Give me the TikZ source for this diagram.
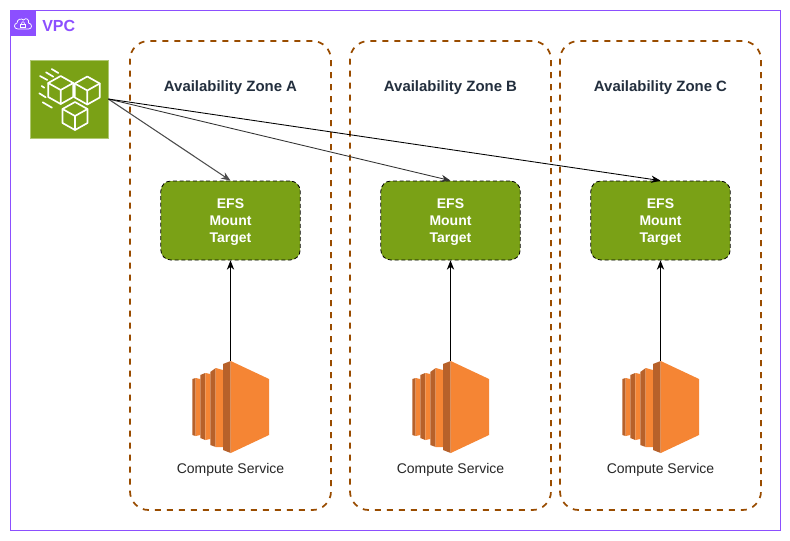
\documentclass[tikz,border=0pt]{standalone}
\usepackage{fontspec}
\setmainfont{Liberation Sans}
\usetikzlibrary{arrows.meta}
\definecolor{vpcpurple}{HTML}{8C4FFF}
\definecolor{zonebrown}{HTML}{994C00}
\definecolor{efsgreen}{HTML}{7AA116}
\definecolor{orangelight}{HTML}{F58534}
\definecolor{orangedark}{HTML}{B7612A}
\definecolor{titlegray}{HTML}{232F3E}
\tikzset{
  zonebox/.style={draw=zonebrown,dash pattern=on 4.5pt off 4.5pt,line width=1.3pt,rounded corners=14pt,minimum width=150.75pt,minimum height=351.75pt,inner sep=0pt},
  mountbox/.style={draw=black,densely dashed,line width=0.6pt,fill=efsgreen,rounded corners=7.5pt,minimum width=104.5pt,minimum height=59.25pt,inner sep=0pt},
  mounttext/.style={text=white,align=center,inner sep=0pt,font=\fontsize{10.5}{12.75}\selectfont\bfseries},
  zonetitle/.style={text=titlegray,font=\fontsize{11.2}{13}\selectfont\bfseries},
  computelabel/.style={text=black!85,font=\fontsize{10.5}{12.75}\selectfont},
  computeslot/.style={minimum width=57.75pt,minimum height=69pt,inner sep=0pt},
  conn/.style={-{Stealth[length=7pt,width=5.5pt]},line width=0.65pt},
  cubeline/.style={draw=white,line width=1.25pt,line join=round,line cap=round},
  computeicon/.pic={
    % four slabs, back to front
    \fill[orangedark] (-38.2,-28) -- (-34.8,-29) -- (-34.8,29) -- (-38.2,28) -- cycle;
    \fill[orangelight] (-34.8,-29) -- (-30.2,-28) -- (-30.2,28) -- (-34.8,29) -- cycle;
    \fill[orangedark] (-30.2,-32) -- (-25.2,-34) -- (-25.2,33) -- (-30.2,31) -- cycle;
    \fill[orangelight] (-25.2,-34) -- (-20.2,-33) -- (-20.2,32) -- (-25.2,33) -- cycle;
    \fill[orangedark] (-20.2,-35) -- (-14.8,-39) -- (-14.8,40) -- (-20.2,38) -- cycle;
    \fill[orangelight] (-14.8,-39) -- (-7.5,-37) -- (-7.5,40) -- (-14.8,40) -- cycle;
    \fill[orangedark] (-7.5,-43) -- (0.2,-46) -- (0.2,46) -- (-7.5,43) -- cycle;
    \fill[orangelight] (0.2,-46) -- (38.5,-28) -- (38.5,28) -- (0.2,46) -- cycle;
  },
  cubeicon/.pic={
    \draw[cubeline,fill=efsgreen] (0,-14) -- (12.5,-7) -- (12.5,7) -- (0,14) -- (-12.5,7) -- (-12.5,-7) -- cycle;
    \draw[cubeline] (-12.5,-7) -- (0,0) -- (12.5,-7) (0,0) -- (0,14);
  }
}
\begin{document}
\begin{tikzpicture}[x=0.75pt,y=-0.75pt]
  \useasboundingbox (0,0) rectangle (790,540);
  \fill[white] (0,0) rectangle (790,540);

  % vpc frame
  \draw[vpcpurple,line width=0.75pt] (10.5,10.5) rectangle (780.5,530.5);
  \fill[vpcpurple] (10,10) rectangle (35.5,35.5);
  \draw[white,line width=0.55pt,line join=round] (18,29) .. controls (13.5,29) and (13.5,23.5) .. (17,23) .. controls (17,19) and (21.5,18) .. (23.5,20) .. controls (26,17) and (29.5,19.5) .. (28.5,23) .. controls (32.5,23.5) and (32.5,29) .. (28.5,29) -- cycle;
  \draw[white,line width=0.45pt] (20.5,24) rectangle (25.5,27.5);
  \draw[white,line width=0.45pt] (21.5,24) .. controls (21.5,21) and (24.5,21) .. (24.5,24);
  \node [anchor=west,inner sep=0pt,text=vpcpurple,font=\fontsize{12}{14}\selectfont\bfseries] (vpctitle) at (42,26) {VPC};

  % zones
  \node [zonebox] (zonea) at (230.5,275.5) {};
  \node [zonebox] (zoneb) at (450.5,275.5) {};
  \node [zonebox] (zonec) at (660.5,275.5) {};
  \node [zonetitle] (titlea) at (230.5,87.5) {Availability Zone A};
  \node [zonetitle] (titleb) at (450.5,87.5) {Availability Zone B};
  \node [zonetitle] (titlec) at (660.5,87.5) {Availability Zone C};

  % efs icon
  \node [draw=efsgreen!60!white,line width=0.5pt,fill=efsgreen,minimum size=58.5pt,inner sep=0pt] (efs) at (69,99) {};
  \pic at (60.7,90) {cubeicon};
  \pic at (87.3,90.5) {cubeicon};
  \pic at (75,116) {cubeicon};
  \draw[cubeline]
    (40,76) -- (47.3,80)
    (46,72.3) -- (53.3,76.7)
    (51.7,69) -- (58.3,73)
    (41.7,86) -- (44.3,87.7)
    (39.3,93.3) -- (45.7,97.3)
    (42.7,102.3) -- (52,107.7)
  ;

  % mount targets
  \node [mountbox] (mounta) at (230.5,220.5) {};
  \node [mountbox] (mountb) at (450.5,220.5) {};
  \node [mountbox] (mountc) at (660.5,220.5) {};
  \node [mounttext] (texta) at (230.5,222.5) {EFS\\Mount\\Target};
  \node [mounttext] (textb) at (450.5,222.5) {EFS\\Mount\\Target};
  \node [mounttext] (textc) at (660.5,222.5) {EFS\\Mount\\Target};

  % compute
  \node [computeslot] (compa) at (230.5,407) {};
  \node [computeslot] (compb) at (450.5,407) {};
  \node [computeslot] (compc) at (660.5,407) {};
  \pic at (230.5,407) {computeicon};
  \pic at (450.5,407) {computeicon};
  \pic at (660.5,407) {computeicon};
  \node [computelabel] (labela) at (230.5,470) {Compute Service};
  \node [computelabel] (labelb) at (450.5,470) {Compute Service};
  \node [computelabel] (labelc) at (660.5,470) {Compute Service};

  \draw[conn] (compa.north) -- (mounta.south);
  \draw[conn] (compb.north) -- (mountb.south);
  \draw[conn] (compc.north) -- (mountc.south);
  \draw[conn,draw=black!70,line width=0.8pt] (efs.east) -- (mounta.north);
  \draw[conn,draw=black!80] (efs.east) -- (mountb.north);
  \draw[conn] (efs.east) -- (mountc.north);
\end{tikzpicture}
\end{document}
